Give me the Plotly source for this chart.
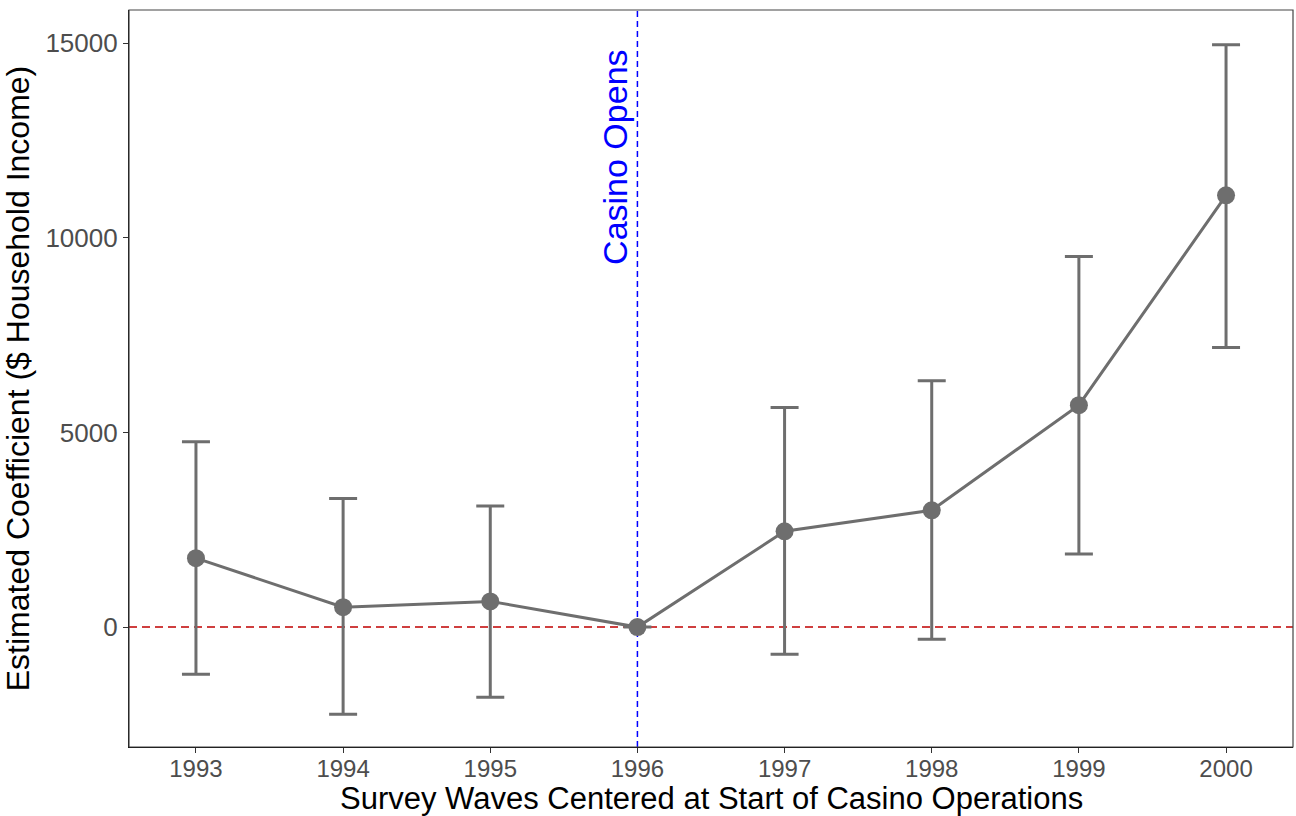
import plotly.graph_objects as go

# Event-study estimates around the casino opening
years = [1993, 1994, 1995, 1996, 1997, 1998, 1999, 2000]
coef = [1770, 510, 660, 0, 2460, 3000, 5700, 11090]
ci_upper = [4760, 3300, 3110, 0, 5640, 6330, 9520, 14960]
ci_lower = [-1210, -2240, -1800, 0, -700, -310, 1880, 7180]
y_ticks = [0, 5000, 10000, 15000]
open_year = 1996

grey = "#6e6e6e"
font_family = "Liberation Sans, Arial, Helvetica, sans-serif"

err_plus = [u - c for u, c in zip(ci_upper, coef)]
err_minus = [c - l for c, l in zip(coef, ci_lower)]

fig = go.Figure()

fig.add_trace(go.Scatter(
    x=years, y=coef,
    mode="lines+markers",
    line=dict(color=grey, width=3),
    marker=dict(color=grey, size=18),
    error_y=dict(type="data", symmetric=False, array=err_plus, arrayminus=err_minus,
                 color=grey, thickness=3, width=14),
    showlegend=False,
    hoverinfo="skip",
))

# zero reference line
fig.add_hline(y=0, line=dict(color="#c00000", width=1.5, dash="8px,5px"), layer="below")
# casino opening line
fig.add_vline(x=open_year, line=dict(color="#0000ff", width=1.5, dash="6px,4px"), layer="below")

fig.add_annotation(
    x=open_year, y=15850, xref="x", yref="y",
    text="Casino Opens", textangle=-90,
    xanchor="right", yanchor="top", showarrow=False,
    xshift=-2, yshift=-38,
    font=dict(family=font_family, size=34, color="#0000ff"),
)

# x-axis title placed below the tick labels
fig.add_annotation(
    x=0.5, y=0, xref="paper", yref="paper",
    text="Survey Waves Centered at Start of Casino Operations",
    xanchor="center", yanchor="middle", showarrow=False,
    yshift=-51,
    font=dict(family=font_family, size=31, color="black"),
)

# panel border
fig.add_shape(type="rect", xref="paper", yref="paper", x0=0, y0=0, x1=1, y1=1,
              line=dict(color="#444444", width=1.2), layer="above")

fig.update_layout(
    width=1296, height=816,
    margin=dict(l=129, r=3, t=10, b=69),
    paper_bgcolor="white", plot_bgcolor="white",
    font=dict(family=font_family),
    xaxis=dict(
        range=[1992.545, 2000.455],
        tickmode="array", tickvals=years, ticktext=[str(y) for y in years],
        showgrid=False, zeroline=False,
        showline=True, linecolor="black", linewidth=1.2,
        ticks="outside", ticklen=5, tickcolor="#333333", tickwidth=1,
        ticklabelstandoff=-5,
        tickfont=dict(size=24, color="#4d4d4d"),
    ),
    yaxis=dict(
        range=[-3080, 15850],
        tickmode="array", tickvals=y_ticks, ticktext=[str(t) for t in y_ticks],
        showgrid=False, zeroline=False,
        showline=True, linecolor="black", linewidth=1.2,
        ticks="outside", ticklen=5, tickcolor="#333333", tickwidth=1,
        tickfont=dict(size=26, color="#4d4d4d"),
        title=dict(text="Estimated Coefficient ($ Household Income)",
                   font=dict(size=32, color="black"), standoff=6),
    ),
)

fig.write_html("out.html")
